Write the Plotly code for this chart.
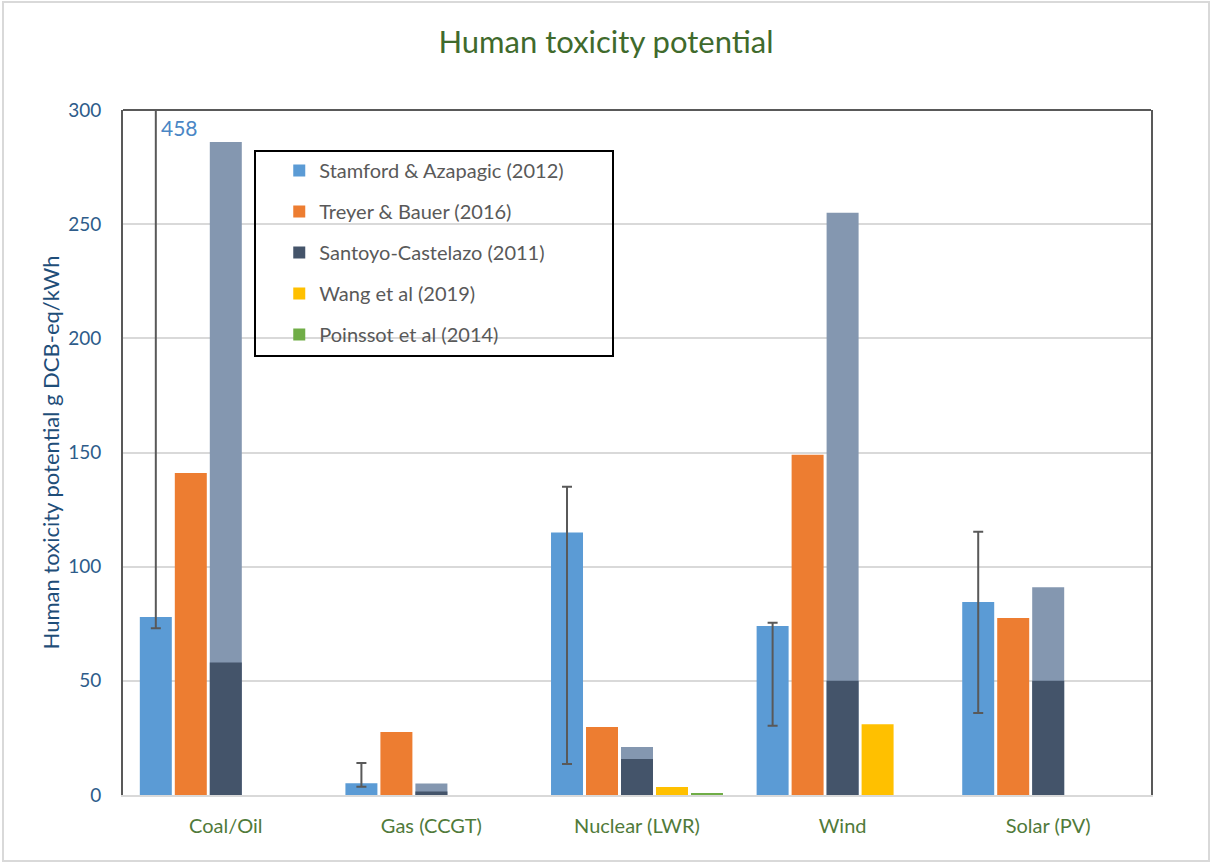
import plotly.graph_objects as go

categories = ["Coal/Oil", "Gas (CCGT)", "Nuclear (LWR)", "Wind", "Solar (PV)"]

stamford = [78, 5.2, 115, 74, 84.5]
stamford_low = [73, 3.6, 13.6, 30.3, 35.9]
stamford_high = [458, 14, 135, 75.4, 115.3]
treyer = [141, 27.6, 29.8, 149, 77.5]
santoyo_low = [58, 1.5, 15.8, 50, 50]
santoyo_high = [286, 5, 21, 255, 91]
wang = [None, None, 3.5, 31, None]
poinssot = [None, None, 0.8, None, None]

series_names = ["Stamford & Azapagic (2012)", "Treyer & Bauer (2016)",
                "Santoyo-Castelazo (2011)", "Wang et al (2019)", "Poinssot et al (2014)"]
colors = ["#5b9bd5", "#ed7d31", "#44546a", "#ffc000", "#70ad47"]
santoyo_light = "#8497b0"

pitch = 0.1702
bw = 0.1556


def off(i):
    return (i - 2) * pitch - bw / 2


err_plus = [h - v for h, v in zip(stamford_high, stamford)]
err_minus = [v - l for v, l in zip(stamford, stamford_low)]

fig = go.Figure()

fig.add_trace(go.Bar(
    x=categories, y=stamford, name=series_names[0], marker_color=colors[0],
    offset=off(0), width=bw, legendgroup="g0",
    error_y=dict(type="data", symmetric=False, array=err_plus, arrayminus=err_minus,
                 color="#595959", thickness=2, width=5),
))
fig.add_trace(go.Bar(
    x=categories, y=treyer, name=series_names[1], marker_color=colors[1],
    offset=off(1), width=bw, legendgroup="g1",
))
fig.add_trace(go.Bar(
    x=categories, y=santoyo_high, name="Santoyo range", marker_color=santoyo_light,
    offset=off(2), width=bw, showlegend=False, legendgroup="g2",
))
fig.add_trace(go.Bar(
    x=categories, y=santoyo_low, name=series_names[2], marker_color=colors[2],
    offset=off(2), width=bw, legendgroup="g2",
))
fig.add_trace(go.Bar(
    x=categories, y=wang, name=series_names[3], marker_color=colors[3],
    offset=off(3), width=bw, legendgroup="g3",
))
fig.add_trace(go.Bar(
    x=categories, y=poinssot, name=series_names[4], marker_color=colors[4],
    offset=off(4), width=bw, legendgroup="g4",
))

fig.update_traces(marker_line_width=0, selector=dict(type="bar"))

FONT = "Lato, 'Open Sans', sans-serif"

fig.update_layout(
    width=1212, height=863,
    margin=dict(l=123, r=61, t=110, b=68),
    barmode="overlay",
    paper_bgcolor="white", plot_bgcolor="white",
    font=dict(family=FONT),
    title=dict(text="Human toxicity potential", x=0.5, xanchor="center", y=0.951, yanchor="middle",
               font=dict(size=31, color="#3f6a2c", family=FONT)),
    xaxis=dict(
        type="category", categoryorder="array", categoryarray=categories,
        range=[-0.5, 4.5],
        showline=True, linecolor="#d9d9d9", linewidth=2,
        tickfont=dict(size=20, color="#507a3a"),
        ticks="", ticklabelstandoff=12,
    ),
    yaxis=dict(
        range=[0, 300], tickvals=[0, 50, 100, 150, 200, 250, 300],
        showgrid=True, gridcolor="#d9d9d9", gridwidth=1.5,
        showline=True, mirror=True, linecolor="#595959", linewidth=2,
        zeroline=False,
        tickfont=dict(size=19, color="#2e5c8a"),
        ticks="", ticklabelstandoff=16,
        title=dict(text="Human toxicity potential g DCB-eq/kWh", standoff=2,
                   font=dict(size=22, color="#1f4e79")),
    ),
    legend=dict(
        x=0.152, y=0.94, xanchor="left", yanchor="top",
        bgcolor="rgba(0,0,0,0)", borderwidth=0,
        font=dict(size=20, color="#595959"),
        traceorder="grouped", tracegroupgap=12,
    ),
    shapes=[
        dict(type="line", xref="paper", yref="paper", x0=0, x1=1, y0=1, y1=1,
             line=dict(color="#595959", width=2)),
        dict(type="rect", xref="paper", yref="paper",
             x0=(255 - 123) / 1028, x1=(613 - 123) / 1028,
             y0=(795 - 356) / 685, y1=(795 - 151) / 685,
             line=dict(color="black", width=2), fillcolor="rgba(0,0,0,0)"),
        dict(type="rect", xref="paper", yref="paper",
             x0=(3 - 123) / 1028, x1=(1209 - 123) / 1028,
             y0=(795 - 861) / 685, y1=(795 - 2) / 685,
             line=dict(color="#d9d9d9", width=2), fillcolor="rgba(0,0,0,0)"),
    ],
    annotations=[
        dict(text="458", x="Coal/Oil", y=300, xref="x", yref="y",
             xanchor="left", yanchor="top", xshift=-67, yshift=-3, showarrow=False,
             font=dict(size=21, color="#4a86c5", family=FONT)),
    ],
)

fig.write_html("out.html", config={"displayModeBar": False},
               post_script="document.body.style.margin='0';")
